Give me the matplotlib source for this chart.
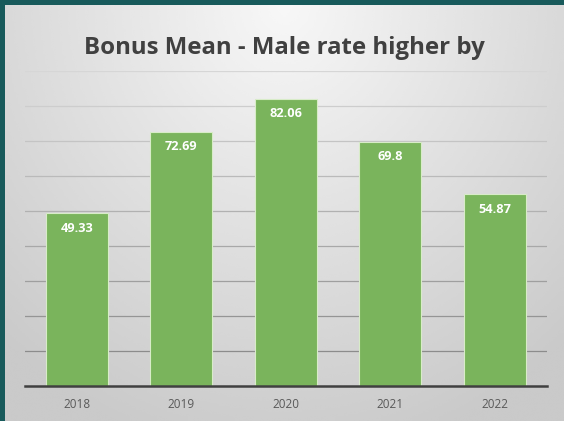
import numpy as np
import matplotlib
matplotlib.use("Agg")
import matplotlib.pyplot as plt

years = ["2018", "2019", "2020", "2021", "2022"]
values = [49.33, 72.69, 82.06, 69.8, 54.87]
title = "Bonus Mean - Male rate higher by"

plt.rcParams["font.family"] = ["Open Sans", "DejaVu Sans"]

W, H = 564, 421
fig = plt.figure(figsize=(W / 100, H / 100), dpi=100)
fig.patch.set_facecolor("#185a5b")

# light radial gradient panel, leaving the teal border on top and left
bg = fig.add_axes([5 / W, 0, 1 - 5 / W, 1 - 5 / H], zorder=0)
yy, xx = np.mgrid[0:1:200j, 0:1:270j]
r = np.sqrt(((xx - 0.5) / 0.75) ** 2 + ((yy - 0.0) / 1.1) ** 2)
shade = 0.97 - 0.18 * np.clip(r, 0, 1)
bg.imshow(shade, cmap="gray", vmin=0, vmax=1, aspect="auto",
          extent=[0, 1, 1, 0], interpolation="bicubic")
bg.axis("off")

ax = fig.add_axes([24.5 / W, 1 - 386 / H, (547 - 24.5) / W, (386 - 71) / H],
                  zorder=1)
ax.patch.set_alpha(0)

x = np.arange(len(years))
bars = ax.bar(x, values, width=0.59, color="#7ab45c", edgecolor="#d8ecc8",
              linewidth=0.8, zorder=2)
for b, v in zip(bars, values):
    ax.text(b.get_x() + b.get_width() / 2, v - 4.3, f"{v:g}",
            ha="center", va="center", color="white", fontsize=9.2,
            fontweight="bold", zorder=3)

ax.set_xlim(-0.5, len(years) - 0.5)
ax.set_ylim(0, 90)
ax.set_yticks(np.arange(10, 91, 10))
ax.yaxis.grid(True, linewidth=0.9)
# gridlines look lighter near the top of the panel
shades = np.linspace(0.55, 0.84, len(ax.get_ygridlines()))
for gl, s in zip(ax.get_ygridlines(), shades):
    gl.set_color(str(s))
ax.set_axisbelow(True)
ax.tick_params(axis="y", left=False, labelleft=False)
ax.set_xticks(x)
ax.set_xticklabels(years, fontsize=8.5, color="#595959")
ax.tick_params(axis="x", length=0, pad=9)
for s in ["top", "right", "left"]:
    ax.spines[s].set_visible(False)
ax.spines["bottom"].set_color("#404040")
ax.spines["bottom"].set_linewidth(1.8)

fig.text(284 / W, 1 - 54 / H, title, ha="center", va="baseline",
         fontsize=17.3, fontweight="bold", color="#404040")

fig.savefig("out.png", dpi=100, facecolor=fig.get_facecolor())
